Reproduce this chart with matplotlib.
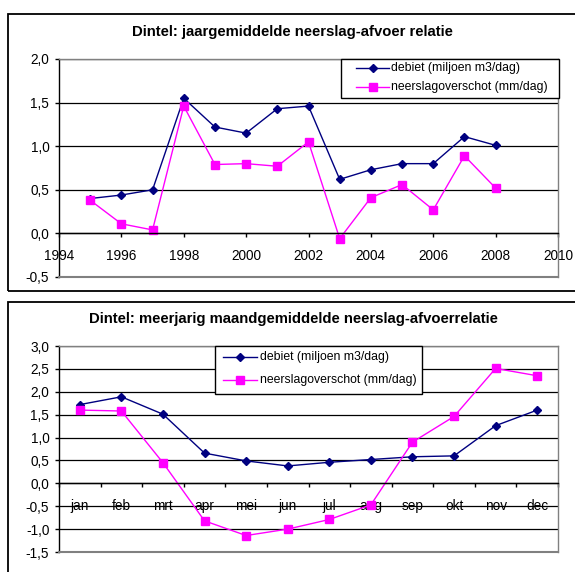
import matplotlib
matplotlib.use('Agg')
import matplotlib.pyplot as plt
from matplotlib.patches import Rectangle
from matplotlib.lines import Line2D
from matplotlib.transforms import Affine2D
from matplotlib.ticker import FuncFormatter, MultipleLocator, FixedLocator

plt.rcParams['font.family'] = ['Liberation Sans', 'DejaVu Sans']

# jaargemiddelden
jaren = [1995, 1996, 1997, 1998, 1999, 2000, 2001, 2002, 2003, 2004, 2005, 2006, 2007, 2008]
debiet_jaar = [0.40, 0.44, 0.50, 1.55, 1.22, 1.15, 1.43, 1.46, 0.62, 0.73, 0.80, 0.80, 1.11, 1.01]
neerslag_jaar = [0.38, 0.11, 0.04, 1.46, 0.79, 0.80, 0.77, 1.05, -0.06, 0.41, 0.56, 0.27, 0.89, 0.52]

# maandgemiddelden
maanden = ['jan', 'feb', 'mrt', 'apr', 'mei', 'jun', 'jul', 'aug', 'sep', 'okt', 'nov', 'dec']
debiet_maand = [1.72, 1.89, 1.51, 0.66, 0.49, 0.38, 0.46, 0.52, 0.58, 0.60, 1.26, 1.60]
neerslag_maand = [1.60, 1.58, 0.45, -0.82, -1.14, -1.00, -0.79, -0.47, 0.90, 1.46, 2.51, 2.35]

reeksen = [('debiet (miljoen m3/dag)', '#000080', 'D', 4.5),
           ('neerslagoverschot (mm/dag)', '#FF00FF', 's', 6)]

W, H = 575, 572
fig = plt.figure(figsize=(W / 100, H / 100), dpi=100)
# pixel coords, origin top-left
px = Affine2D().scale(1 / W, -1 / H).translate(0, 1) + fig.transFigure


def px_rect(x0, y0, x1, y1):
    return [x0 / W, 1 - y1 / H, (x1 - x0) / W, (y1 - y0) / H]


def komma(v, pos):
    return f'{v:.1f}'.replace('.', ',')


def opmaak(ax, ymin, ymax):
    ax.set_ylim(ymin, ymax)
    ax.yaxis.set_major_locator(MultipleLocator(0.5))
    ax.yaxis.set_major_formatter(FuncFormatter(komma))
    ax.grid(axis='y', color='black', linewidth=0.9)
    ax.set_axisbelow(True)
    for s in ['top', 'right']:
        ax.spines[s].set_color('#808080')
        ax.spines[s].set_linewidth(1.0)
    ax.spines['left'].set_color('black')
    ax.spines['left'].set_linewidth(1.0)
    ax.spines['bottom'].set_position(('data', 0))
    ax.spines['bottom'].set_color('black')
    ax.spines['bottom'].set_linewidth(1.0)
    ax.axhline(ymin, color='#808080', linewidth=1.5, zorder=3, clip_on=False)
    ax.tick_params(axis='y', direction='out', length=3, width=1, pad=4, labelsize=9.8)
    ax.tick_params(axis='x', direction='out', length=3, width=1, labelsize=9.8)


def legenda(box, rijen_y, hx0, hx1, tx):
    x0, y0, x1, y1 = box
    fig.patches.append(Rectangle((x0, y0), x1 - x0, y1 - y0, transform=px, facecolor='white',
                                 edgecolor='black', linewidth=1, zorder=10))
    for (label, kleur, marker, ms), y in zip(reeksen, rijen_y):
        fig.lines.append(Line2D([hx0, hx1], [y, y], transform=px, color=kleur, linewidth=1, zorder=11))
        fig.lines.append(Line2D([(hx0 + hx1) / 2], [y], transform=px, color=kleur, marker=marker,
                                markersize=ms, linestyle='none', zorder=12))
        fig.text(tx / W, 1 - y / H, label, fontsize=8.8, ha='left', va='center', zorder=12)


# kaders om de grafieken
fig.patches.append(Rectangle((8 / W, 1 - 291 / H), 600 / W, 277 / H, transform=fig.transFigure,
                             fill=False, edgecolor='black', linewidth=1.3))
fig.patches.append(Rectangle((8 / W, 1 - 600 / H), 600 / W, 298 / H, transform=fig.transFigure,
                             fill=False, edgecolor='black', linewidth=1.3))

# bovenste grafiek
ax1 = fig.add_axes(px_rect(59, 59, 558, 277))
for (label, kleur, marker, ms), ys in zip(reeksen, [debiet_jaar, neerslag_jaar]):
    ax1.plot(jaren, ys, color=kleur, linewidth=1, marker=marker, markersize=ms, label=label)
ax1.set_xlim(1994, 2010)
ax1.set_xticks(range(1994, 2011, 2))
opmaak(ax1, -0.5, 2.0)
ax1.tick_params(axis='x', pad=8)
fig.text(292 / W, 1 - 32 / H, 'Dintel: jaargemiddelde neerslag-afvoer relatie', ha='center', va='center',
         fontsize=10.7, fontweight='bold')
legenda((341, 59, 559, 98), [68, 87], 356, 389, 391)

# onderste grafiek
ax2 = fig.add_axes(px_rect(59, 346, 558, 552))
x = range(len(maanden))
for (label, kleur, marker, ms), ys in zip(reeksen, [debiet_maand, neerslag_maand]):
    ax2.plot(x, ys, color=kleur, linewidth=1, marker=marker, markersize=ms, label=label)
ax2.set_xlim(-0.5, len(maanden) - 0.5)
ax2.set_xticks(list(x))
ax2.set_xticklabels(maanden)
ax2.xaxis.set_minor_locator(FixedLocator([i - 0.5 for i in range(len(maanden) + 1)]))
opmaak(ax2, -1.5, 3.0)
ax2.tick_params(axis='x', which='major', length=0, pad=11)
ax2.tick_params(axis='x', which='minor', direction='out', length=3, width=1)
fig.text(293 / W, 1 - 319 / H, 'Dintel: meerjarig maandgemiddelde neerslag-afvoerrelatie', ha='center',
         va='center', fontsize=10.7, fontweight='bold')
legenda((215, 346, 422, 394), [357, 380], 223, 257, 260)

fig.savefig('out.png', dpi=100)
